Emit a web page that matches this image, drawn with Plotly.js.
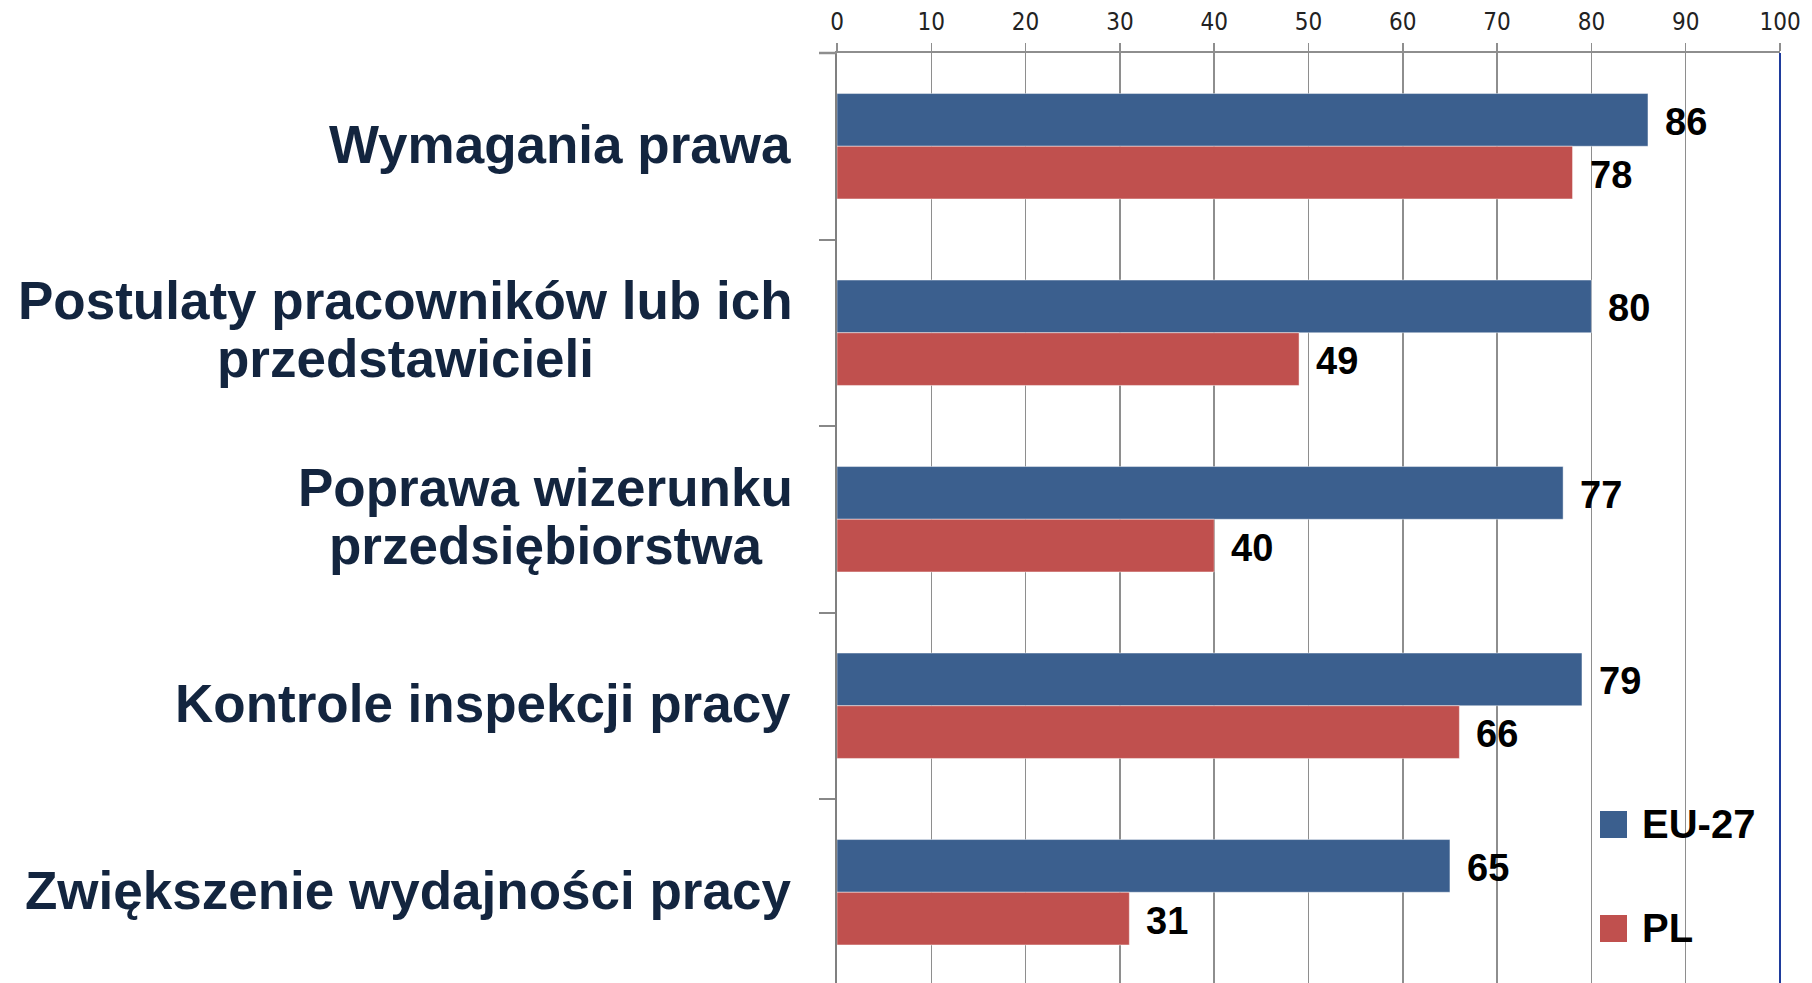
<!DOCTYPE html>
<html>
<head>
<meta charset="utf-8">
<script src="https://cdn.plot.ly/plotly-3.0.1.min.js"></script>
<style>
  html, body { margin: 0; padding: 0; background: #ffffff; }
  #chart { width: 1812px; height: 983px; }
</style>
</head>
<body>
<div id="chart"></div>
<script>
// ---- data ----
var categoryLines = [
  ["Wymagania prawa"],
  ["Postulaty pracowników lub ich", "przedstawicieli"],
  ["Poprawa wizerunku", "przedsiębiorstwa"],
  ["Kontrole inspekcji pracy"],
  ["Zwiększenie wydajności pracy"]
];
var categories = categoryLines.map(function (l) { return l.join(" "); });
var seriesNames = ["EU-27", "PL"];
var euValues = [86, 80, 77, 79, 65];
var plValues = [78, 49, 40, 66, 31];
var xTickValues = [0, 10, 20, 30, 40, 50, 60, 70, 80, 90, 100];

// ---- styles ----
var BLUE = "#3b5f8e";
var RED = "#c0504e";
var GRID = "#8e8e8e";
var LABEL_COLOR = "#13253f";
var catFont = { family: "'Liberation Sans', Arial, sans-serif", size: 53, color: LABEL_COLOR };
var valFont = { family: "'Liberation Sans', Arial, sans-serif", size: 38, color: "#000000" };
var legFont = { family: "'Liberation Sans', Arial, sans-serif", size: 40, color: "#000000" };

var W = 1812, H = 983;
var mL = 837, mR = 32, mT = 53, mB = 0;
var plotH = H - mT - mB;
var catPx = 186.5;
var yBottom = -0.5 + plotH / catPx;
var bargap = 0.435;
var half = (1 - bargap) / 4;

var traces = [
  {
    type: "bar", orientation: "h", name: seriesNames[0],
    x: euValues, y: categories,
    marker: { color: BLUE, line: { color: "rgba(255,255,255,0.45)", width: 1 } },
    hoverinfo: "none"
  },
  {
    type: "bar", orientation: "h", name: seriesNames[1],
    x: plValues, y: categories,
    marker: { color: RED, line: { color: "rgba(255,255,255,0.45)", width: 1 } },
    hoverinfo: "none"
  }
];

// measure text width
var cv = document.createElement("canvas").getContext("2d");
cv.font = "bold 53px 'Liberation Sans', Arial, sans-serif";
function tw(s) { return cv.measureText(s).width; }

var annotations = [];
var labelRight = -44; // px offset from plot left edge
categoryLines.forEach(function (lines, i) {
  if (lines.length === 1) {
    annotations.push({
      xref: "paper", yref: "y", x: 0, y: i, xanchor: "right", yanchor: "middle",
      xshift: labelRight, yshift: 2, text: "<b>" + lines[0] + "</b>", showarrow: false, font: catFont
    });
  } else {
    var w0 = tw(lines[0]);
    var cx = labelRight - w0 / 2;
    annotations.push({
      xref: "paper", yref: "y", x: 0, y: i, xanchor: "center", yanchor: "middle",
      xshift: cx, yshift: 32, text: "<b>" + lines[0] + "</b>", showarrow: false, font: catFont
    });
    annotations.push({
      xref: "paper", yref: "y", x: 0, y: i, xanchor: "center", yanchor: "middle",
      xshift: cx, yshift: -26, text: "<b>" + lines[1] + "</b>", showarrow: false, font: catFont
    });
  }
});

// value labels
[euValues, plValues].forEach(function (vals, s) {
  vals.forEach(function (v, i) {
    annotations.push({
      xref: "x", yref: "y", x: v, y: i + (s === 0 ? -half : half),
      xanchor: "left", yanchor: "middle", xshift: 15, yshift: -2,
      text: "<b>" + v + "</b>", showarrow: false, font: valFont
    });
  });
});

// custom legend
function py(p) { return (H - mB - p) / plotH; }
function px(p) { return (p - mL) / (W - mL - mR); }
var legendColors = [BLUE, RED];
var legendTop = [811, 915];
var shapes = [];
seriesNames.forEach(function (n, k) {
  shapes.push({
    type: "rect", xref: "paper", yref: "paper",
    x0: px(1600), x1: px(1627), y0: py(legendTop[k] + 27), y1: py(legendTop[k]),
    fillcolor: legendColors[k], line: { width: 0 }
  });
  annotations.push({
    xref: "paper", yref: "paper", x: px(1640), y: py(legendTop[k] + 13.5),
    xanchor: "left", yanchor: "middle", yshift: 1,
    text: "<b>" + n + "</b>", showarrow: false, font: legFont
  });
});

// right border and top-line extension
shapes.push({
  type: "line", xref: "paper", yref: "paper", x0: 1, x1: 1, y0: 0, y1: 1,
  line: { color: "#1f3c9c", width: 2 }
});
shapes.push({
  type: "line", xref: "paper", yref: "paper", x0: px(819), x1: 0, y0: 1, y1: 1,
  line: { color: GRID, width: 2.5 }
});

var layout = {
  width: W, height: H,
  margin: { l: mL, r: mR, t: mT, b: mB, pad: 0 },
  paper_bgcolor: "#ffffff", plot_bgcolor: "#ffffff",
  showlegend: false,
  barmode: "group", bargap: bargap, bargroupgap: 0,
  xaxis: {
    side: "top", range: [0, 100], tickvals: xTickValues,
    showgrid: true, gridcolor: GRID, gridwidth: 1.5, zeroline: false,
    ticks: "outside", ticklen: 8, tickwidth: 1.5, tickcolor: GRID,
    showline: true, linecolor: GRID, linewidth: 2.5,
    ticklabelstandoff: 3,
    tickfont: { family: "'Liberation Sans Narrow', 'DejaVu Sans Condensed', sans-serif", size: 24, color: "#222222" },
    fixedrange: true
  },
  yaxis: {
    type: "category", range: [yBottom, -0.5],
    showgrid: false, zeroline: false,
    showticklabels: false,
    tickson: "boundaries", ticks: "outside", ticklen: 16, tickwidth: 2, tickcolor: "#888888",
    showline: true, linecolor: "#808080", linewidth: 2.5,
    fixedrange: true
  },
  annotations: annotations,
  shapes: shapes
};

Plotly.newPlot("chart", traces, layout, { displayModeBar: false, staticPlot: true });
</script>
</body>
</html>
